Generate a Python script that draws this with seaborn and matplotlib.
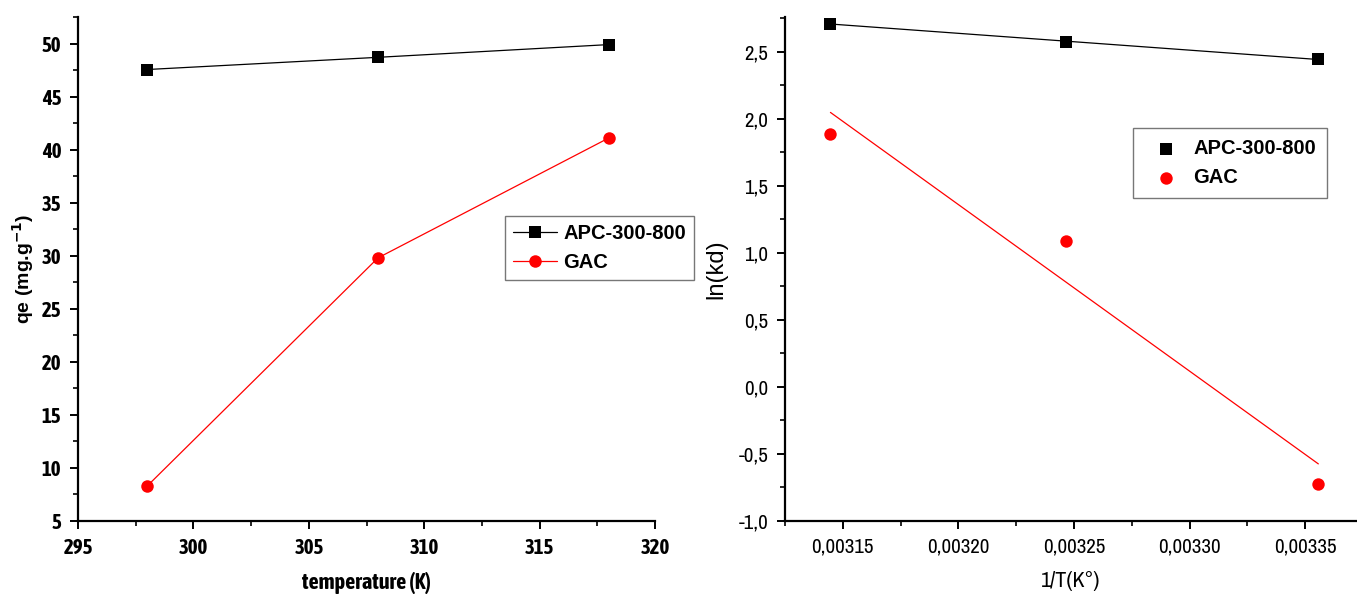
import numpy as np
import pandas as pd
import matplotlib
matplotlib.use("Agg")
import matplotlib.pyplot as plt
from matplotlib import font_manager
from matplotlib.ticker import MultipleLocator, FuncFormatter
import seaborn as sns

# Adsorption capacity versus temperature
temperature = [298, 308, 318]
qe_apc = [47.55, 48.7, 49.9]
qe_gac = [8.3, 29.8, 41.1]

# Van't Hoff data
inv_t = [1 / 318, 1 / 308, 1 / 298]
lnkd_apc = [2.71, 2.575, 2.445]
lnkd_gac = [1.888, 1.09, -0.724]

series_names = ["APC-300-800", "GAC"]
colors = {"APC-300-800": "black", "GAC": "red"}
markers = {"APC-300-800": "s", "GAC": "o"}

sns.set_theme(style="ticks")
plt.rcParams["font.family"] = ["Liberation Sans", "DejaVu Sans"]
plt.rcParams["text.color"] = "black"
plt.rcParams["axes.labelcolor"] = "black"

# condensed sans faces for tick labels; prefer families that ship a bold weight
def _is_narrow(name):
    return "Narrow" in name or "Condensed" in name

fonts = font_manager.fontManager.ttflist
narrow_all = sorted({f.name for f in fonts if _is_narrow(f.name)})
narrow_bold = sorted({f.name for f in fonts if _is_narrow(f.name)
                      and (f.weight in ("bold", 700) or str(f.weight) == "700")})
NARROW = narrow_all[:1] + ["Liberation Sans", "DejaVu Sans"]
NARROW_B = (narrow_bold[:1] or narrow_all[:1]) + ["Liberation Sans", "DejaVu Sans"]
TICK_SIZE = 15 if narrow_all else 13

df_qe = pd.DataFrame({
    "T": temperature * 2,
    "qe": qe_apc + qe_gac,
    "sample": [series_names[0]] * 3 + [series_names[1]] * 3,
})

fig = plt.figure(figsize=(13.57, 5.98), dpi=100)
W, H = 1357, 598
ax1 = fig.add_axes([78 / W, 1 - 521 / H, (655 - 78) / W, (521 - 17) / H])
ax2 = fig.add_axes([785 / W, 1 - 521 / H, (1356 - 785) / W, (521 - 17) / H])

# ---- left panel: qe vs temperature
sns.lineplot(data=df_qe, x="T", y="qe", hue="sample", style="sample",
             palette=colors, markers=markers, dashes=False, markersize=9,
             markeredgewidth=0, linewidth=0.9, ax=ax1)
ax1.set_xlim(295, 320)
ax1.set_ylim(5, 52.5)
ax1.xaxis.set_major_locator(MultipleLocator(5))
ax1.xaxis.set_minor_locator(MultipleLocator(2.5))
ax1.yaxis.set_major_locator(MultipleLocator(5))
ax1.yaxis.set_minor_locator(MultipleLocator(2.5))
ax1.set_xlabel("temperature (K)", fontsize=16, fontweight="bold", family=NARROW_B, labelpad=10)
ax1.set_ylabel("qe (mg.g$^{\\mathbf{-1}}$)", fontsize=14, fontweight="bold", labelpad=4)
for lab in ax1.get_xticklabels() + ax1.get_yticklabels():
    lab.set_family(NARROW_B)
    lab.set_fontweight("bold")
    lab.set_fontsize(TICK_SIZE)
leg1 = ax1.legend(title=None, loc="upper left", bbox_to_anchor=(0.74, 0.605),
                  borderaxespad=0, frameon=True, fancybox=False, edgecolor="#555555",
                  prop={"weight": "bold", "size": 14.5}, handlelength=2.2,
                  handletextpad=0.3, borderpad=0.4, labelspacing=0.5)
leg1.get_frame().set_linewidth(1.0)

# ---- right panel: ln(kd) vs 1/T with linear fits
for name, yvals in zip(series_names, [lnkd_apc, lnkd_gac]):
    sns.regplot(x=np.array(inv_t), y=np.array(yvals), ci=None, truncate=True,
                marker=markers[name], color=colors[name], label=name,
                scatter_kws={"s": 80, "linewidths": 0, "alpha": 1},
                line_kws={"linewidth": 0.9}, ax=ax2)
ax2.set_xlim(0.003125, 0.003372)
ax2.set_ylim(-1.0, 2.76)
ax2.xaxis.set_major_locator(MultipleLocator(0.00005))
ax2.xaxis.set_minor_locator(MultipleLocator(0.000025))
ax2.yaxis.set_major_locator(MultipleLocator(0.5))
ax2.yaxis.set_minor_locator(MultipleLocator(0.25))
ax2.xaxis.set_major_formatter(FuncFormatter(lambda v, p: f"{v:.5f}".replace(".", ",")))
ax2.yaxis.set_major_formatter(FuncFormatter(lambda v, p: f"{v:.1f}".replace(".", ",")))
ax2.set_xlabel("1/T(K°)", fontsize=16, family=NARROW, labelpad=10)
ax2.set_ylabel("ln(kd)", fontsize=17, labelpad=8)
for lab in ax2.get_xticklabels() + ax2.get_yticklabels():
    lab.set_family(NARROW)
    lab.set_fontsize(TICK_SIZE)
handles, labels = ax2.get_legend_handles_labels()
scat = [h for h in handles if isinstance(h, matplotlib.collections.PathCollection)]
leg2 = ax2.legend(scat, series_names, loc="upper left", bbox_to_anchor=(0.609, 0.78),
                  borderaxespad=0, frameon=True, fancybox=False, edgecolor="#555555",
                  prop={"weight": "bold", "size": 14.5}, handlelength=2.2,
                  handletextpad=0.25, borderpad=0.55, labelspacing=0.5)
leg2.get_frame().set_linewidth(1.0)

for ax in (ax1, ax2):
    sns.despine(ax=ax)
    for sp in ("left", "bottom"):
        ax.spines[sp].set_linewidth(1.6)
        ax.spines[sp].set_color("black")
    ax.tick_params(which="major", direction="out", length=6, width=1.4, colors="black", pad=6)
    ax.tick_params(which="minor", direction="out", length=3.5, width=1.2, colors="black")

fig.savefig("out.png", dpi=100)
